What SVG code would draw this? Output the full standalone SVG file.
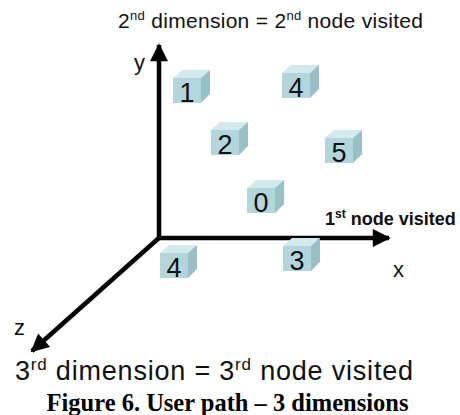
<svg xmlns="http://www.w3.org/2000/svg" width="460" height="415" viewBox="0 0 460 415">
<style>
.front{fill:#b2d6dc}
.top{fill:#d2eaee}
.side{fill:#9ac0c7}
.num{font-family:"Liberation Sans",Arial,sans-serif;font-size:27px;fill:#111;text-anchor:middle}
.lbl{font-family:"Liberation Sans",Arial,sans-serif;fill:#111}
.axis{stroke:#000;stroke-width:4.5;fill:none}
</style>
<defs>
<g id="cube">
<polygon class="top" points="0,8 9,0 37,0 28,8"/>
<polygon class="side" points="28,8 37,0 37,24 28,33"/>
<rect class="front" x="0" y="8" width="28" height="25"/>
</g>
<marker id="ah" viewBox="0 0 10 10" refX="9" refY="5" markerWidth="4.2" markerHeight="4" orient="auto" markerUnits="strokeWidth">
<path d="M0,0 L10,5 L0,10 Z" fill="#000"/>
</marker>
</defs>
<rect width="460" height="415" fill="#fff"/>
<text class="lbl" x="118" y="28" font-size="21" letter-spacing="0.3">2<tspan font-size="13" dy="-8">nd</tspan><tspan dy="8"> dimension = 2</tspan><tspan font-size="13" dy="-8">nd</tspan><tspan dy="8"> node visited</tspan></text>
<g id="connectors">
<line class="axis" x1="159" y1="240" x2="159" y2="45" marker-end="url(#ah)"/>
<line class="axis" x1="157" y1="238" x2="389" y2="238" marker-end="url(#ah)"/>
<line class="axis" x1="160" y1="237" x2="32" y2="351" marker-end="url(#ah)"/>
</g>
<text class="lbl" x="134" y="70" font-size="22">y</text>
<text class="lbl" x="393" y="277" font-size="22">x</text>
<text class="lbl" x="14" y="335" font-size="22">z</text>
<text class="lbl" x="325" y="225" font-size="18" font-weight="bold">1<tspan font-size="12" dy="-7">st</tspan><tspan dy="7"> node visited</tspan></text>
<g id="node-1"><use href="#cube" x="173" y="70"/><text class="num" x="187" y="102">1</text></g>
<g id="node-4a"><use href="#cube" x="282" y="65"/><text class="num" x="296" y="97">4</text></g>
<g id="node-2"><use href="#cube" x="211" y="122"/><text class="num" x="225" y="154">2</text></g>
<g id="node-5"><use href="#cube" x="325" y="130"/><text class="num" x="339" y="162">5</text></g>
<g id="node-0"><use href="#cube" x="247" y="180"/><text class="num" x="261" y="212">0</text></g>
<g id="node-4b"><use href="#cube" x="160" y="245"/><text class="num" x="174" y="277">4</text></g>
<g id="node-3"><use href="#cube" x="283" y="238"/><text class="num" x="297" y="270">3</text></g>
<text class="lbl" x="15" y="380" font-size="27" letter-spacing="0.8">3<tspan font-size="17" dy="-10">rd</tspan><tspan dy="10"> dimension = 3</tspan><tspan font-size="17" dy="-10">rd</tspan><tspan dy="10"> node visited</tspan></text>
<text x="227.5" y="411" font-family="'Liberation Serif','Times New Roman',serif" font-size="24.5" font-weight="bold" text-anchor="middle" fill="#000">Figure 6. User path – 3 dimensions</text>
</svg>
